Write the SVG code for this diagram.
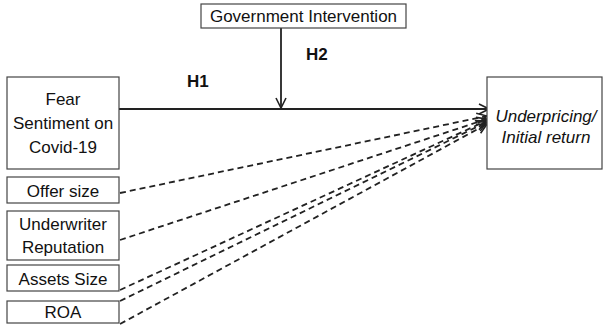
<svg xmlns="http://www.w3.org/2000/svg" width="603" height="329" viewBox="0 0 603 329">
<defs>
<style>
.box{fill:#fff;stroke:#444;stroke-width:1.2}
.t{font-family:"Liberation Sans",Arial,sans-serif;font-size:17px;fill:#111;text-anchor:middle}
.i{font-style:italic}
.h{font-family:"Liberation Sans",Arial,sans-serif;font-size:17px;font-weight:bold;fill:#111}
.solid{stroke:#222;stroke-width:1.8;fill:none}
.dash{stroke:#222;stroke-width:1.8;fill:none;stroke-dasharray:6 4}
</style>
<marker id="arr" viewBox="0 0 12 12" refX="11" refY="6" markerWidth="12" markerHeight="12" markerUnits="userSpaceOnUse" orient="auto">
<path d="M1,1 L11,6 L1,11" fill="none" stroke="#222" stroke-width="1.6"/>
</marker>
</defs>
<rect width="603" height="329" fill="#fff"/>
<g id="connectors">
<path class="solid" d="M119,109 L489,109" marker-end="url(#arr)"/>
<path class="solid" d="M281,28 L281,108" marker-end="url(#arr)"/>
<path class="dash" d="M120,193 L487,116" marker-end="url(#arr)"/>
<path class="dash" d="M120,240 L487,119" marker-end="url(#arr)"/>
<path class="dash" d="M120,290 L486,121" marker-end="url(#arr)"/>
<path class="dash" d="M120,301 L487,122" marker-end="url(#arr)"/>
<path class="dash" d="M120,324 L487,124" marker-end="url(#arr)"/>
<text class="h" x="187" y="87">H1</text>
<text class="h" x="306" y="60">H2</text>
</g>
<g id="gov">
<rect class="box" x="201" y="4" width="205" height="24"/>
<text class="t" x="303.5" y="22">Government Intervention</text>
</g>
<g id="fear">
<rect class="box" x="7" y="77" width="112" height="92"/>
<text class="t" x="63" y="105">Fear</text>
<text class="t" x="63" y="129">Sentiment on</text>
<text class="t" x="63" y="153">Covid-19</text>
</g>
<g id="offer">
<rect class="box" x="7" y="177" width="112" height="26"/>
<text class="t" x="63" y="197">Offer size</text>
</g>
<g id="underwriter">
<rect class="box" x="7" y="211" width="112" height="49"/>
<text class="t" x="63" y="230">Underwriter</text>
<text class="t" x="63" y="253">Reputation</text>
</g>
<g id="assets">
<rect class="box" x="7" y="265" width="112" height="26"/>
<text class="t" x="63" y="285">Assets Size</text>
</g>
<g id="roa">
<rect class="box" x="7" y="301" width="112" height="22"/>
<text class="t" x="63" y="318">ROA</text>
</g>
<g id="underpricing">
<rect class="box" x="487" y="77" width="115" height="92"/>
<text class="t i" x="546" y="122">Underpricing/</text>
<text class="t i" x="546" y="143">Initial return</text>
</g>
</svg>
